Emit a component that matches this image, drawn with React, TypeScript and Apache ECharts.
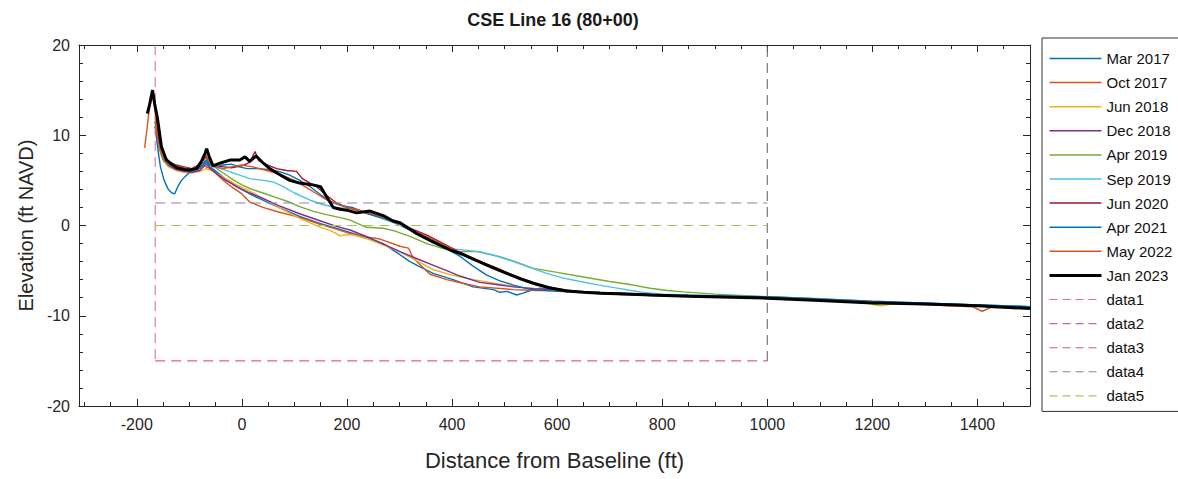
import React, { useEffect, useRef } from "react";
import * as echarts from "echarts";

type Pt = [number, number];

// Survey profiles: [distance from baseline (ft), elevation (ft NAVD)]
const mar2017: Pt[] = [[-165,11.5],[-158,9],[-150,7.5],[-140,6.8],[-125,6.4],[-110,6.2],[-95,6.0],[-80,6.3],[-68,7.0],[-60,6.5],[-45,5.8],[-30,5.1],[-10,4.3],[15,3.5],[40,2.8],[70,2.0],[110,1.0],[150,0.2],[190,-0.5],[230,-1.2],[269,-2.0],[295,-3.0],[320,-4.0],[340,-4.6],[364,-5.3],[402,-6.0],[440,-6.8],[479,-7.1],[491,-7.4],[505,-7.3],[523,-7.7],[535,-7.5],[549,-7.2],[568,-6.95],[600,-7.2],[700,-7.45],[800,-7.7],[1000,-7.95],[1200,-8.45],[1400,-8.8],[1500,-9.0]];
const oct2017: Pt[] = [[-185,8.6],[-180,11],[-176,13],[-170,14.5],[-166,13],[-160,10.5],[-153,8.3],[-145,7.2],[-130,6.6],[-115,6.3],[-100,6.1],[-85,6.2],[-72,6.6],[-64,6.4],[-50,5.8],[-35,5.0],[-20,4.3],[0,3.5],[15,2.6],[40,2.0],[70,1.5],[110,0.9],[150,0.1],[180,-0.4],[206,-0.9],[230,-1.2],[263,-1.5],[301,-2.3],[317,-2.5],[326,-3.6],[358,-5.4],[390,-6.0],[420,-6.4],[453,-6.8],[517,-7.1],[560,-7.2],[600,-7.2],[700,-7.5],[800,-7.7],[1000,-8.0],[1200,-8.5],[1400,-8.9],[1500,-9.15]];
const jun2018: Pt[] = [[-165,10.5],[-158,8.5],[-150,7.2],[-140,6.5],[-125,6.1],[-110,5.9],[-95,5.8],[-80,6.0],[-68,6.3],[-55,6.0],[-40,5.5],[-25,5.0],[-10,4.5],[15,3.8],[40,3.0],[70,2.0],[110,0.8],[150,-0.2],[170,-0.6],[187,-1.15],[200,-1.0],[212,-1.05],[240,-1.5],[276,-2.3],[300,-2.9],[330,-3.8],[364,-4.9],[400,-5.5],[440,-6.0],[480,-6.4],[523,-6.8],[560,-7.0],[600,-7.2],[700,-7.5],[800,-7.7],[860,-7.9],[900,-7.8],[1000,-8.0],[1180,-8.5],[1215,-8.9],[1250,-8.6],[1400,-8.9],[1500,-9.1]];
const dec2018: Pt[] = [[-165,11],[-158,8.8],[-150,7.4],[-140,6.7],[-125,6.2],[-110,6.0],[-95,5.9],[-80,6.1],[-68,6.8],[-60,6.3],[-45,5.6],[-30,5.0],[-10,4.3],[15,3.6],[40,3.0],[70,2.2],[110,1.3],[150,0.5],[180,-0.1],[206,-0.5],[240,-1.3],[263,-1.9],[301,-2.9],[330,-3.6],[360,-4.3],[390,-5.0],[415,-5.6],[453,-6.3],[491,-6.6],[517,-6.8],[555,-7.0],[600,-7.15],[650,-7.35],[700,-7.5],[800,-7.7],[1000,-8.0],[1200,-8.5],[1400,-8.85],[1500,-9.1]];
const apr2019: Pt[] = [[-165,11],[-158,8.8],[-150,7.5],[-140,6.9],[-125,6.5],[-110,6.3],[-95,6.1],[-80,6.4],[-68,7.3],[-60,6.8],[-45,6.2],[-30,5.6],[-15,5.0],[0,4.5],[15,4.1],[40,3.6],[70,3.0],[90,2.6],[110,2.1],[135,1.6],[161,1.2],[185,0.9],[206,0.6],[237,-0.2],[269,-0.3],[290,-0.6],[320,-1.2],[352,-2.0],[380,-2.5],[409,-2.9],[447,-2.9],[491,-3.45],[520,-4.0],[555,-4.75],[600,-5.2],[650,-5.7],[700,-6.2],[745,-6.6],[777,-6.95],[810,-7.2],[840,-7.35],[900,-7.6],[1000,-7.9],[1100,-8.1],[1180,-8.4],[1205,-8.75],[1230,-8.5],[1400,-8.85],[1500,-9.1]];
const sep2019: Pt[] = [[-165,11.5],[-158,9],[-150,7.6],[-140,6.9],[-125,6.6],[-110,6.4],[-95,6.2],[-80,6.6],[-68,7.4],[-60,6.8],[-45,6.4],[-30,6.1],[-10,5.7],[15,5.2],[41,5.0],[60,4.8],[79,4.3],[100,3.6],[130,2.8],[155,2.3],[180,2.0],[206,1.9],[230,1.5],[260,0.9],[290,0.3],[320,-0.5],[350,-1.3],[380,-2.3],[400,-2.6],[420,-2.7],[453,-2.9],[480,-3.3],[517,-4.0],[550,-4.7],[580,-5.3],[610,-5.8],[644,-6.2],[680,-6.6],[720,-7.0],[760,-7.4],[800,-7.6],[1000,-7.9],[1200,-8.4],[1400,-8.8],[1500,-9.0]];
const jun2020: Pt[] = [[-165,11.5],[-158,9.5],[-150,8.0],[-140,7.1],[-125,6.7],[-110,6.5],[-95,6.3],[-80,6.8],[-68,7.6],[-62,7.0],[-50,6.6],[-35,6.5],[-20,6.4],[0,6.6],[15,7.0],[25,8.2],[32,7.2],[45,6.8],[66,6.3],[85,6.1],[104,6.0],[115,5.2],[130,4.7],[142,4.3],[160,3.4],[180,2.5],[200,2.0],[230,1.5],[260,1.0],[290,0.5],[320,-0.3],[350,-1.0],[380,-1.9],[410,-2.8],[450,-3.9],[480,-4.6],[520,-5.6],[560,-6.5],[600,-7.0],[650,-7.4],[700,-7.6],[800,-7.8],[1000,-8.0],[1200,-8.5],[1400,-8.9],[1500,-9.1]];
const apr2021: Pt[] = [[-165,11.0],[-160,8.5],[-155,6.5],[-148,5.0],[-140,4.0],[-133,3.6],[-128,3.5],[-122,4.3],[-115,5.0],[-105,5.6],[-95,6.1],[-80,6.4],[-68,7.2],[-62,6.8],[-50,6.5],[-35,6.7],[-20,6.8],[-5,6.5],[10,6.3],[30,6.3],[50,6.2],[70,6.0],[90,5.6],[110,5.0],[130,4.3],[150,3.4],[170,2.6],[190,2.2],[210,2.0],[240,1.3],[270,0.8],[300,0.1],[330,-0.8],[360,-1.8],[390,-2.6],[415,-3.4],[440,-4.5],[466,-5.5],[490,-6.1],[517,-6.6],[550,-7.1],[600,-7.3],[700,-7.5],[800,-7.7],[1000,-7.9],[1200,-8.4],[1400,-8.8],[1500,-9.0]];
const may2022: Pt[] = [[-165,12],[-160,9.5],[-152,7.8],[-140,7.0],[-125,6.6],[-110,6.4],[-95,6.2],[-80,6.6],[-68,7.8],[-62,7.0],[-50,6.5],[-35,6.3],[-20,6.5],[0,6.7],[20,6.5],[40,6.2],[60,5.9],[80,5.5],[100,5.0],[120,4.3],[140,3.6],[160,2.9],[180,2.4],[200,2.0],[230,1.6],[260,1.1],[290,0.4],[320,-0.4],[350,-1.2],[380,-2.0],[410,-2.9],[450,-3.9],[480,-4.7],[520,-5.7],[560,-6.6],[600,-7.1],[650,-7.4],[700,-7.6],[800,-7.8],[1000,-8.0],[1200,-8.5],[1390,-9.0],[1409,-9.5],[1425,-9.1],[1500,-9.1]];
const jan2023: Pt[] = [[-180,12.4],[-176,13.3],[-170,15.0],[-166,13.5],[-161,12.0],[-153,8.7],[-144,7.3],[-134,6.8],[-124,6.4],[-110,6.2],[-100,6.15],[-86,6.3],[-77,7.1],[-70,8.0],[-67,8.5],[-62,7.6],[-55,6.6],[-42,6.9],[-23,7.25],[-4,7.25],[6,7.6],[15,7.1],[27,7.7],[41,6.9],[53,6.3],[70,5.7],[91,5.0],[110,4.7],[135,4.5],[150,4.3],[160,3.3],[174,2.0],[187,1.8],[200,1.7],[218,1.4],[244,1.6],[269,1.1],[288,0.5],[301,0.3],[333,-0.9],[360,-1.7],[396,-2.7],[420,-3.2],[447,-3.9],[475,-4.6],[504,-5.3],[530,-5.9],[555,-6.4],[585,-6.9],[618,-7.25],[650,-7.4],[682,-7.5],[730,-7.6],[777,-7.7],[850,-7.85],[1000,-8.05],[1100,-8.3],[1190,-8.55],[1300,-8.7],[1400,-8.9],[1500,-9.2]];

// Reference (dashed) lines
const data1: Pt[] = [[-165, 20], [-165, -15]];
const data2: Pt[] = [[-165, -15], [1000, -15]];
const data3: Pt[] = [[1000, -15], [1000, 20]];
const data4: Pt[] = [[-165, 2.5], [1000, 2.5]];
const data5: Pt[] = [[-165, 0], [1000, 0]];

const surveyNames = ["Mar 2017", "Oct 2017", "Jun 2018", "Dec 2018", "Apr 2019", "Sep 2019", "Jun 2020", "Apr 2021", "May 2022", "Jan 2023"];
const surveyData = [mar2017, oct2017, jun2018, dec2018, apr2019, sep2019, jun2020, apr2021, may2022, jan2023];
const surveyColors = ["#0072BD", "#D95319", "#EDB120", "#7E2F8E", "#77AC30", "#4DBEEE", "#A2142F", "#0072BD", "#D95319", "#000000"];
const refNames = ["data1", "data2", "data3", "data4", "data5"];
const refData = [data1, data2, data3, data4, data5];
const refColors = ["#d9708f", "#e0607e", "#6b6b6b", "#8c7fae", "#a9c45c"];
const refLegendColors = ["#d9708f", "#e0607e", "#d65a78", "#8c7fae", "#a9c45c"];

const xMajorTicks = [-200, 0, 200, 400, 600, 800, 1000, 1200, 1400];
const xMinorTicks = [-300, -250, -200, -150, -100, -50, 0, 50, 100, 150, 200, 250, 300, 350, 400, 450, 500, 550, 600, 650, 700, 750, 800, 850, 900, 950, 1000, 1050, 1100, 1150, 1200, 1250, 1300, 1350, 1400, 1450, 1500];

const FONT = "'Liberation Sans Narrow', 'Liberation Sans', Arial, sans-serif";
const AX = "#262626";

export default function App() {
  const ref = useRef<HTMLDivElement>(null);
  useEffect(() => {
    if (!ref.current) return;
    const chart = echarts.init(ref.current, undefined, { renderer: "svg" });
    const xBase = { type: "value", min: -310, max: 1500, gridIndex: 0, splitLine: { show: false } };
    const xAxes = [
      {
        ...xBase, position: "bottom",
        axisLine: { show: true, onZero: false, lineStyle: { color: AX } },
        axisTick: { show: true, inside: true, length: 7, customValues: xMajorTicks, lineStyle: { color: AX } },
        axisLabel: { show: true, customValues: xMajorTicks, formatter: (v: number) => String(v), fontSize: 16, color: AX, fontFamily: FONT, margin: 10 },
        name: "Distance from Baseline (ft)", nameLocation: "middle", nameGap: 43,
        nameTextStyle: { fontSize: 22, color: AX, fontFamily: FONT },
      },
      {
        ...xBase, position: "bottom",
        axisLine: { show: false, onZero: false },
        axisTick: { show: true, inside: true, length: 4, customValues: xMinorTicks, lineStyle: { color: AX } },
        axisLabel: { show: false },
      },
      {
        ...xBase, position: "top",
        axisLine: { show: true, onZero: false, lineStyle: { color: AX } },
        axisTick: { show: true, inside: true, length: 7, customValues: xMajorTicks, lineStyle: { color: AX } },
        axisLabel: { show: false },
      },
      {
        ...xBase, position: "top",
        axisLine: { show: false, onZero: false },
        axisTick: { show: true, inside: true, length: 4, customValues: xMinorTicks, lineStyle: { color: AX } },
        axisLabel: { show: false },
      },
    ];
    const yBase = {
      type: "value", min: -20, max: 20, interval: 10,
      axisLine: { show: true, onZero: false, lineStyle: { color: AX } },
      axisTick: { show: true, inside: true, length: 7, lineStyle: { color: AX } },
      minorTick: { show: true, splitNumber: 5, length: 4, lineStyle: { color: AX } },
      splitLine: { show: false },
      minorSplitLine: { show: false },
    };
    const series: any[] = [];
    surveyNames.forEach((name, i) => {
      series.push({
        name, type: "line", data: surveyData[i], xAxisIndex: 0, yAxisIndex: 0,
        symbol: "none", showSymbol: false,
        lineStyle: { color: surveyColors[i], width: i === 9 ? 3 : 1.4 },
        itemStyle: { color: surveyColors[i] },
        z: i === 9 ? 5 : 3,
      });
    });
    refNames.forEach((name, i) => {
      series.push({
        name, type: "line", data: refData[i], xAxisIndex: 0, yAxisIndex: 0,
        symbol: "none", showSymbol: false,
        lineStyle: { color: refColors[i], width: 1.1, type: [10, 6] },
        itemStyle: { color: refColors[i] },
        z: 4,
      });
    });
    const legendData = [
      ...surveyNames.map((n, i) => ({ name: n, lineStyle: { color: surveyColors[i], width: i === 9 ? 3 : 1.5 } })),
      ...refNames.map((n, i) => ({ name: n, lineStyle: { color: refLegendColors[i], type: [8, 5], width: 1.1 } })),
    ];
    chart.setOption({
      animation: false,
      backgroundColor: "#ffffff",
      grid: { left: 79, right: 148, top: 45, bottom: 73, show: false },
      graphic: [
        {
          type: "text", x: 553, y: 20,
          style: { text: "CSE Line 16 (80+00)", textAlign: "center", textVerticalAlign: "middle", fontSize: 18, fontWeight: "bold", fontFamily: FONT, fill: "#1a1a1a" },
        },
      ],
      legend: {
        orient: "vertical", left: 1042, top: 38,
        itemWidth: 52, itemHeight: 14, itemGap: 9.1,
        padding: [13, 12, 8, 6],
        borderColor: "#333", borderWidth: 1,
        itemStyle: { opacity: 0 },
        textStyle: { fontSize: 15, color: "#111", fontFamily: FONT },
        data: legendData,
        selectedMode: false,
      },
      xAxis: xAxes,
      yAxis: [
        {
          ...yBase, position: "left",
          axisLabel: { fontSize: 16, color: AX, fontFamily: FONT, margin: 9 },
          name: "Elevation (ft NAVD)", nameLocation: "middle", nameGap: 40,
          nameTextStyle: { fontSize: 20, color: AX, fontFamily: FONT },
        },
        { ...yBase, position: "right", axisLabel: { show: false } },
      ],
      series,
    });
    return () => chart.dispose();
  }, []);
  return (
    <div
      ref={ref}
      style={{ position: "fixed", left: 0, top: 0, width: 1178, height: 479, background: "#fff" }}
    />
  );
}
